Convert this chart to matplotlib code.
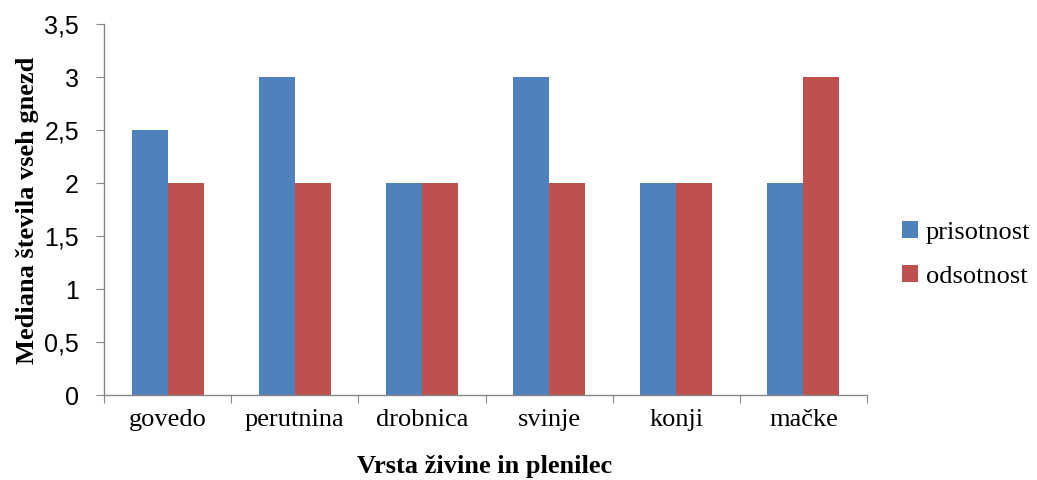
import numpy as np
import matplotlib.pyplot as plt
from matplotlib.ticker import FuncFormatter

categories = ["govedo", "perutnina", "drobnica", "svinje", "konji", "mačke"]
prisotnost = [2.5, 3, 2, 3, 2, 2]
odsotnost = [2, 2, 2, 2, 2, 3]

blue = "#4F81BD"
red = "#C0504D"
grey = "#868686"

fig = plt.figure(figsize=(10.37, 4.8), dpi=100)
ax = fig.add_axes([0.1003, 0.177, 0.7358, 0.773])

x = np.arange(len(categories))
w = 0.283
ax.bar(x - w / 2, prisotnost, w, color=blue, label="prisotnost")
ax.bar(x + w / 2, odsotnost, w, color=red, label="odsotnost")

ax.set_xlim(-0.5, len(categories) - 0.5)
ax.set_ylim(0, 3.5)
ax.set_yticks(np.arange(0, 3.51, 0.5))
ax.yaxis.set_major_formatter(FuncFormatter(lambda v, p: f"{v:g}".replace(".", ",")))
for t in ax.get_yticklabels():
    t.set_fontfamily("Liberation Sans")
    t.set_fontsize(18)

# category labels sit between tick marks at the boundaries
ax.set_xticks(np.arange(-0.5, len(categories), 1))
ax.set_xticklabels([])
ax.set_xticks(x, minor=True)
ax.set_xticklabels(categories, minor=True, fontfamily="Liberation Serif", fontsize=19)
ax.tick_params(axis="x", which="minor", length=0, pad=10)
ax.tick_params(axis="x", which="major", length=6, color=grey, direction="out")
ax.tick_params(axis="y", length=6, color=grey, direction="out", pad=12)

for s in ["top", "right"]:
    ax.spines[s].set_visible(False)
for s in ["left", "bottom"]:
    ax.spines[s].set_color(grey)
    ax.spines[s].set_linewidth(1.0)

fig.text(28 / 1037, 1 - 210 / 480, "Mediana števila vseh gnezd", rotation=90,
         ha="center", va="center", fontfamily="Liberation Serif",
         fontsize=19, fontweight="bold")
fig.text(485 / 1037, 1 - 466 / 480, "Vrsta živine in plenilec", ha="center",
         va="center", fontfamily="Liberation Serif", fontsize=19, fontweight="bold")

fig.legend(loc="center left", bbox_to_anchor=(0.870, 0.47), frameon=False,
           prop={"family": "Liberation Serif", "size": 19},
           handlelength=0.6, handleheight=0.6, handletextpad=0.3, labelspacing=0.8,
           borderpad=0, borderaxespad=0)

fig.savefig("out.png", dpi=100)
